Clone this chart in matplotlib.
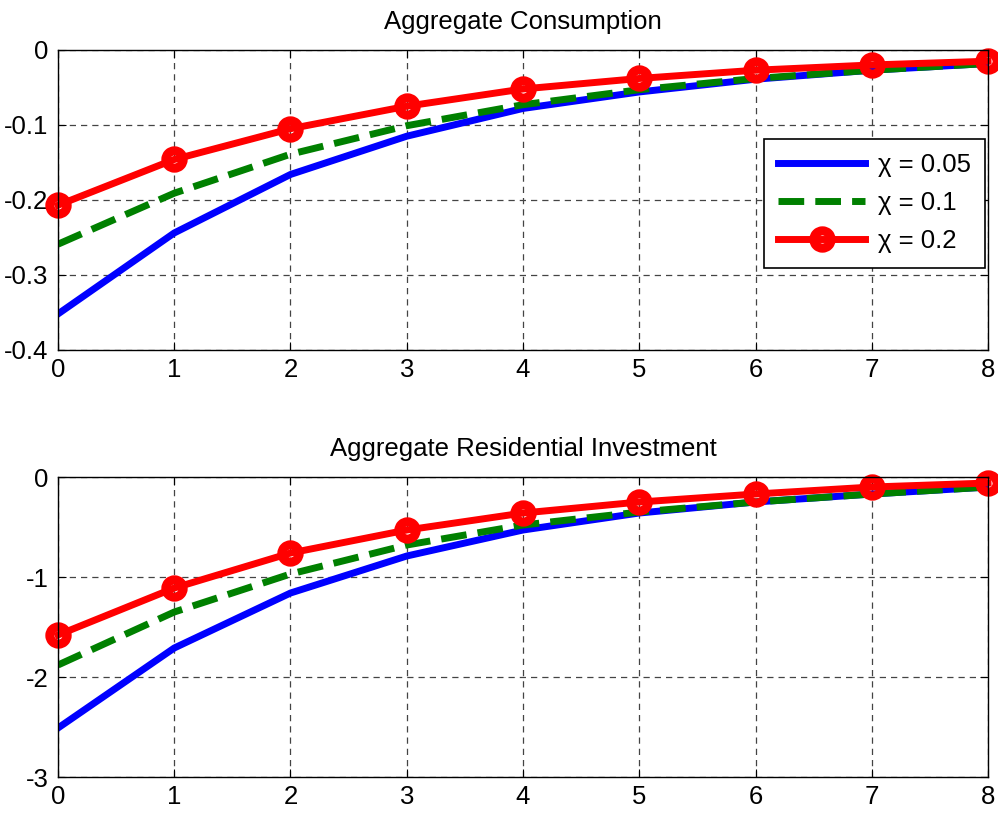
import matplotlib
matplotlib.use('Agg')
import matplotlib.pyplot as plt

plt.rcParams['font.family'] = ['Liberation Sans', 'DejaVu Sans']

# 데이터
periods = [0, 1, 2, 3, 4, 5, 6, 7, 8]
labels = ['χ = 0.05', 'χ = 0.1', 'χ = 0.2']

cons_005 = [-0.352, -0.244, -0.166, -0.115, -0.078, -0.056, -0.039, -0.027, -0.018]
cons_01 = [-0.259, -0.191, -0.139, -0.101, -0.073, -0.053, -0.038, -0.027, -0.018]
cons_02 = [-0.207, -0.146, -0.105, -0.075, -0.052, -0.038, -0.027, -0.020, -0.015]

inv_005 = [-2.51, -1.71, -1.16, -0.79, -0.53, -0.36, -0.25, -0.17, -0.10]
inv_01 = [-1.88, -1.35, -0.97, -0.68, -0.48, -0.35, -0.25, -0.17, -0.10]
inv_02 = [-1.58, -1.11, -0.76, -0.53, -0.36, -0.25, -0.17, -0.10, -0.06]

titles = ['Aggregate Consumption', 'Aggregate Residential Investment']

fs = 18.5
fig = plt.figure(figsize=(9.98, 8.15), dpi=100)
ax1 = fig.add_axes([0.0581, 0.5706, 0.9319, 0.3681])
ax2 = fig.add_axes([0.0581, 0.0466, 0.9319, 0.3681])

lw = 5
for ax, series, title, ylim, yticks, yfmt in [
    (ax1, (cons_005, cons_01, cons_02), titles[0], (-0.4, 0), [-0.4, -0.3, -0.2, -0.1, 0],
     ['-0.4', '-0.3', '-0.2', '-0.1', '0']),
    (ax2, (inv_005, inv_01, inv_02), titles[1], (-3, 0), [-3, -2, -1, 0],
     ['-3', '-2', '-1', '0']),
]:
    ax.plot(periods, series[0], color='#0000ff', lw=lw, label=labels[0])
    ax.plot(periods, series[1], color='#008000', lw=lw, ls='--', label=labels[1])
    ax.plot(periods, series[2], color='#ff0000', lw=lw, marker='o', ms=12.5,
            mew=6.5, mfc='none', mec='#ff0000', label=labels[2], clip_on=False)
    ax.set_xlim(0, 8)
    ax.set_ylim(*ylim)
    ax.set_xticks(periods)
    ax.set_yticks(yticks)
    ax.set_yticklabels(yfmt)
    ax.grid(True, color='#444444', ls=(0, (5, 4)), lw=0.9)
    ax.tick_params(direction='in', length=6, top=True, right=True, labelsize=fs, pad=6)
    ax.tick_params(axis='y', pad=7)
    for s in ax.spines.values():
        s.set_linewidth(1.0)
    ax.set_title(title, fontsize=fs, pad=15)

leg = ax1.legend(loc='upper right', bbox_to_anchor=(0.997, 0.703), fontsize=fs,
                 handlelength=3.4, fancybox=False, framealpha=1, edgecolor='black',
                 borderaxespad=0, labelspacing=0.55, handletextpad=0.5,
                 borderpad=0.55)
leg.get_frame().set_linewidth(1.2)

fig.savefig('out.png', dpi=100)
